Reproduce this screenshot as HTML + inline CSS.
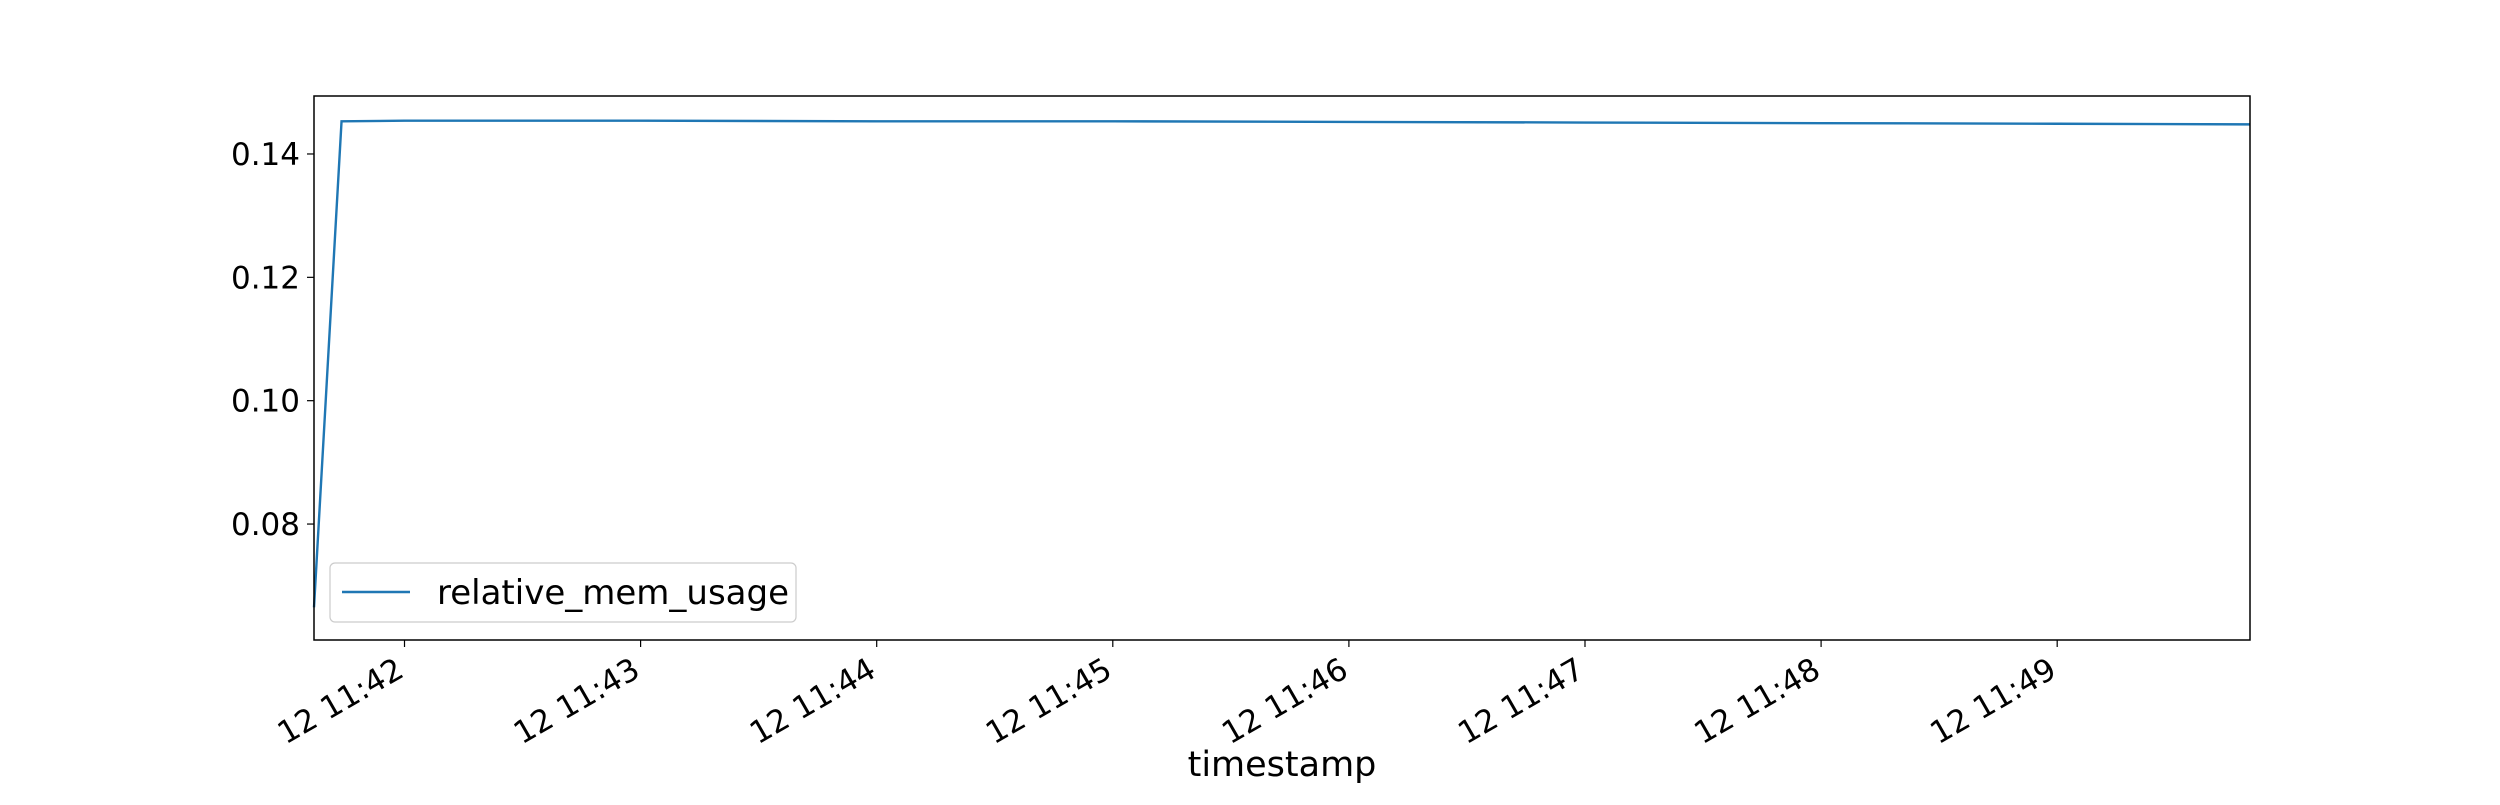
<!DOCTYPE html>
<html><head><meta charset="utf-8"><style>
body{margin:0;background:#fff;}
svg text{font-family:"DejaVu Sans","Liberation Sans",sans-serif;fill:#000;}
</style></head><body>
<svg id="chart" width="2500" height="800" xmlns="http://www.w3.org/2000/svg">
<rect width="2500" height="800" fill="#fff"/>
<g id="plot"></g>
</svg>
<script>
const timesSec = [-23, -16, 0, 60, 120, 180, 240, 300, 360, 420, 469];
const memValues = [0.0665, 0.1453, 0.1454, 0.1454, 0.1453, 0.1453, 0.1452, 0.1451, 0.1450, 0.1449, 0.1448];
const xTickSec = [0, 60, 120, 180, 240, 300, 360, 420];
const xTickLabels = ["12 11:42","12 11:43","12 11:44","12 11:45","12 11:46","12 11:47","12 11:48","12 11:49"];
const yTicks = [0.08, 0.10, 0.12, 0.14];
const yTickLabels = ["0.08","0.10","0.12","0.14"];

const L=314,R=2250,T=96,B=640;
const xMin=-23,xMax=469,yMin=0.0612,yMax=0.1494;
const xs=v=>L+(v-xMin)/(xMax-xMin)*(R-L);
const ys=v=>B-(v-yMin)/(yMax-yMin)*(B-T);
const NS="http://www.w3.org/2000/svg";
const g=document.getElementById('plot');
function mk(tag,attrs,parent){const e=document.createElementNS(NS,tag);for(const k in attrs)e.setAttribute(k,attrs[k]);(parent||g).appendChild(e);return e;}

xTickSec.forEach((t,i)=>{
  const x=xs(t);
  const tk=mk('line',{x1:x,x2:x,y1:B,y2:B+7,stroke:'#000','stroke-width':1.2});
  
  
  const ax=x-10, ay=B+16;
  const tx=mk('text',{x:ax,y:ay,'font-size':31,'text-anchor':'end',transform:`rotate(-30 ${ax} ${ay})`,'dominant-baseline':'hanging'});
  tx.textContent=xTickLabels[i];
  
  
});
yTicks.forEach((v,i)=>{
  const y=ys(v);
  const tk=mk('line',{x1:L-7,x2:L,y1:y,y2:y,stroke:'#000','stroke-width':1.2});
  
  
  const tx=mk('text',{x:L-14,y:y+11,'font-size':31,'text-anchor':'end'});
  tx.textContent=yTickLabels[i];
  
  
});
const pts=timesSec.map((t,i)=>xs(t)+','+ys(memValues[i])).join(' ');
const line=mk('polyline',{points:pts,fill:'none',stroke:'#1f77b4','stroke-width':2.4});



const frame=mk('rect',{x:L,y:T,width:R-L,height:B-T,fill:'none',stroke:'#000','stroke-width':1.5});



const lg=mk('g',{});


mk('rect',{x:330,y:563,width:466,height:59,rx:5,fill:'#fff','fill-opacity':0.8,stroke:'#ccc','stroke-width':1.2},lg);
mk('line',{x1:342,x2:410,y1:592,y2:592,stroke:'#1f77b4','stroke-width':2.4},lg);
const lt=mk('text',{x:437,y:604,'font-size':34},lg);
lt.textContent='relative_mem_usage';



const xl=mk('text',{x:1282,y:776,'font-size':35,'text-anchor':'middle'});
xl.textContent='timestamp';


</script>
</body></html>
